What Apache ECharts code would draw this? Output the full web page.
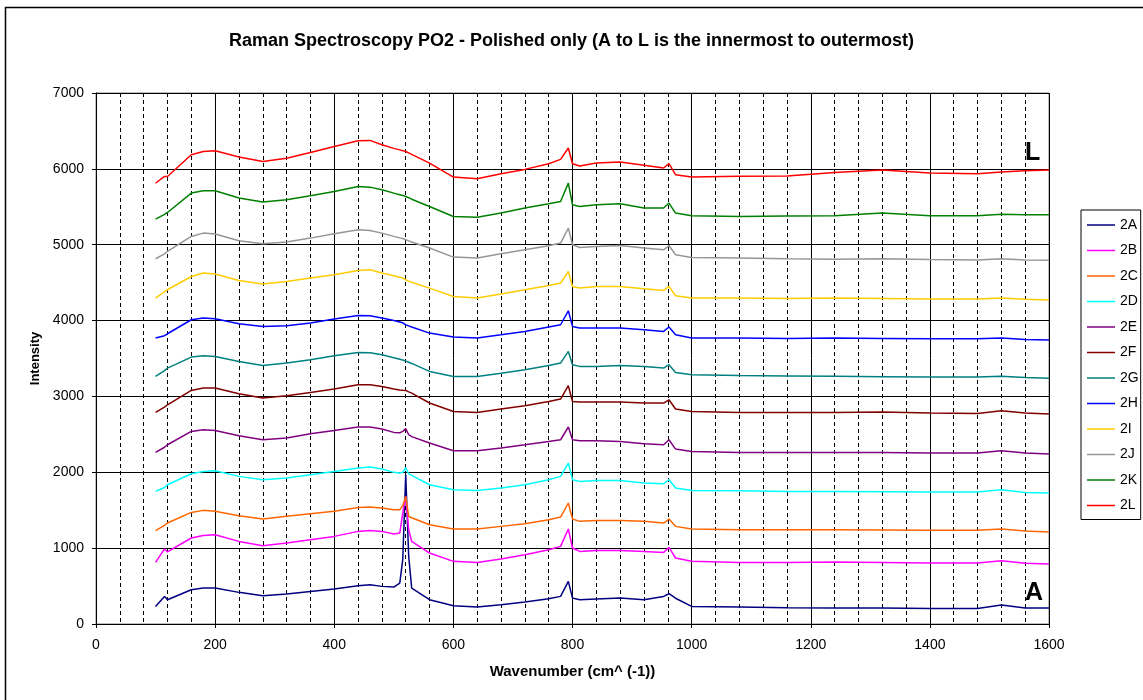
<!DOCTYPE html>
<html>
<head>
<meta charset="utf-8">
<script src="https://cdn.jsdelivr.net/npm/echarts@6/dist/echarts.min.js"></script>
<style>
html,body{margin:0;padding:0;background:#fff;}
#chart{width:1143px;height:700px;}
</style>
</head>
<body>
<div id="chart"></div>
<script>
// ---- data ----
const wavenumbers = [100,115,120,160,180,200,240,280,320,360,400,440,460,480,500,510,515,520,525,530,560,600,640,680,720,760,780,793,800,812,840,880,920,953,962,973,1000,1080,1160,1240,1320,1400,1480,1520,1560,1600];

const seriesNames = ['2A','2B','2C','2D','2E','2F','2G','2H','2I','2J','2K','2L'];
const seriesColors = ['#000080','#FF00FF','#FF6600','#00FFFF','#800080','#800000','#008080','#0000FF','#FFCC00','#969696','#008000','#FF0000'];

const s2A = [232,364,320,452,474,474,417,373,395,430,461,505,518,496,487,540,848,1968,891,474,320,241,224,254,290,333,364,562,342,320,329,342,320,364,399,340,232,224,215,211,211,205,205,250,211,211];
const s2B = [812,990,950,1134,1168,1177,1089,1032,1068,1111,1155,1221,1234,1221,1186,1199,1463,1682,1243,1089,935,826,812,857,914,979,1023,1252,1002,957,970,970,957,944,1010,870,826,812,812,817,810,805,805,835,800,791];
const s2C = [1230,1300,1331,1471,1498,1485,1428,1384,1419,1454,1485,1537,1542,1529,1507,1507,1560,1682,1419,1400,1309,1252,1252,1287,1322,1375,1410,1595,1384,1353,1366,1366,1353,1331,1384,1287,1252,1243,1243,1243,1240,1235,1235,1252,1225,1213];
const s2D = [1748,1800,1836,1981,2011,2021,1946,1902,1924,1968,2011,2056,2069,2043,1999,1990,2000,2060,1980,1960,1836,1770,1761,1792,1836,1902,1946,2122,1902,1880,1893,1893,1858,1849,1902,1792,1761,1755,1748,1748,1745,1740,1740,1770,1735,1726];
const s2E = [2262,2330,2363,2539,2561,2552,2482,2429,2451,2508,2552,2597,2597,2570,2526,2520,2540,2575,2495,2470,2386,2285,2284,2320,2363,2407,2429,2597,2429,2416,2416,2407,2376,2363,2429,2306,2275,2262,2262,2262,2262,2255,2255,2284,2255,2240];
const s2F = [2789,2860,2890,3079,3110,3110,3035,2979,3009,3053,3097,3154,3154,3132,3097,3085,3080,3079,3060,3044,2913,2802,2789,2834,2877,2934,2965,3141,2934,2925,2925,2925,2912,2912,2956,2834,2802,2789,2789,2789,2795,2780,2775,2811,2780,2769];
const s2G = [3263,3340,3374,3519,3537,3527,3461,3409,3440,3484,3537,3580,3575,3550,3510,3490,3480,3465,3450,3435,3330,3263,3263,3306,3352,3409,3440,3593,3418,3396,3396,3409,3396,3374,3418,3316,3286,3277,3270,3265,3260,3255,3255,3265,3250,3240];
const s2H = [3770,3800,3826,4011,4033,4024,3958,3923,3932,3967,4020,4068,4064,4033,4000,3980,3970,3945,3930,3915,3835,3783,3770,3813,3857,3915,3945,4129,3923,3901,3901,3901,3879,3857,3915,3813,3770,3770,3765,3770,3765,3760,3760,3770,3750,3745];
const s2I = [4297,4380,4406,4581,4626,4613,4529,4481,4516,4560,4604,4661,4670,4626,4590,4570,4560,4538,4520,4505,4428,4318,4297,4349,4406,4463,4494,4647,4450,4428,4450,4450,4419,4397,4450,4327,4297,4297,4290,4297,4290,4285,4285,4297,4280,4270];
const s2J = [4815,4880,4911,5109,5153,5140,5052,5012,5035,5087,5144,5197,5188,5153,5110,5090,5080,5065,5050,5035,4956,4837,4824,4881,4933,4986,5022,5219,4999,4964,4977,4990,4956,4933,4990,4868,4832,4824,4815,4810,4815,4805,4800,4815,4800,4795];
const s2K = [5338,5400,5425,5681,5711,5711,5615,5562,5592,5645,5702,5768,5759,5724,5680,5660,5650,5636,5620,5600,5504,5372,5363,5417,5483,5540,5570,5812,5526,5504,5526,5540,5483,5483,5549,5417,5381,5372,5380,5381,5417,5381,5381,5403,5395,5395];
const s2L = [5810,5900,5900,6186,6229,6238,6155,6097,6141,6216,6295,6370,6375,6317,6270,6250,6240,6229,6210,6190,6076,5892,5870,5936,5993,6068,6125,6275,6068,6037,6077,6090,6046,6011,6068,5923,5892,5901,5905,5953,5985,5944,5935,5960,5975,5985];

const seriesValues = [s2A,s2B,s2C,s2D,s2E,s2F,s2G,s2H,s2I,s2J,s2K,s2L];

const xTicks = {min:0, max:1600, interval:200};
const yTicks = {min:0, max:7000, interval:1000};

const titleText = 'Raman Spectroscopy PO2 - Polished only (A to L is the innermost to outermost)';
const xTitle = 'Wavenumber (cm^ (-1))';
const yTitle = 'Intensity';

// ---- chart ----
const FONT = '"Liberation Sans", Arial, sans-serif';
const chart = echarts.init(document.getElementById('chart'), null, {renderer:'canvas'});

const series = seriesNames.map((name, i) => ({
  name: name,
  type: 'line',
  data: wavenumbers.map((x, j) => [x, seriesValues[i][j]]),
  symbol: 'none',
  showSymbol: false,
  lineStyle: {color: seriesColors[i], width: 1.5},
  itemStyle: {color: seriesColors[i]},
  emphasis: {disabled: true},
  z: 3 + i
}));

const plain = v => String(v);

chart.setOption({
  animation: false,
  backgroundColor: '#fff',
  textStyle: {fontFamily: FONT, color: '#000'},
  title: {
    text: titleText,
    left: 'center',
    top: 27,
    textStyle: {fontFamily: FONT, fontSize: 18, fontWeight: 'bold', color: '#000'}
  },
  grid: {left: 96, top: 93, right: 94, bottom: 76, show: true, borderColor: '#808080', borderWidth: 1, backgroundColor: '#fff'},
  legend: {
    orient: 'vertical',
    left: 1081,
    top: 210,
    data: seriesNames.map(n => ({name: n, icon: 'rect'})),
    itemWidth: 28,
    itemHeight: 1.5,
    itemGap: 11.5,
    itemTextGap: 4,
    padding: [8, 2, 7, 6],
    borderColor: '#000',
    borderWidth: 1,
    backgroundColor: '#fff',
    selectedMode: false,
    textStyle: {fontFamily: FONT, fontSize: 14, color: '#000'}
  },
  xAxis: {
    type: 'value',
    min: xTicks.min, max: xTicks.max, interval: xTicks.interval,
    name: xTitle,
    nameLocation: 'middle',
    nameGap: 40,
    nameTextStyle: {fontFamily: FONT, fontSize: 15, fontWeight: 'bold', color: '#000'},
    axisLine: {show: true, onZero: false, lineStyle: {color: '#000', width: 1}},
    axisTick: {show: true, inside: false, length: 4, lineStyle: {color: '#000'}},
    axisLabel: {fontFamily: FONT, fontSize: 14, color: '#000', margin: 14, formatter: plain},
    splitLine: {show: true, lineStyle: {color: '#000', width: 1}},
    minorTick: {show: false, splitNumber: 5},
    minorSplitLine: {show: true, lineStyle: {color: '#000', width: 1, type: [4, 3]}}
  },
  yAxis: {
    type: 'value',
    min: yTicks.min, max: yTicks.max, interval: yTicks.interval,
    name: yTitle,
    nameLocation: 'middle',
    nameGap: 54,
    nameRotate: 90,
    nameTextStyle: {fontFamily: FONT, fontSize: 13, fontWeight: 'bold', color: '#000'},
    axisLine: {show: true, lineStyle: {color: '#000', width: 1}},
    axisTick: {show: true, inside: false, length: 4, lineStyle: {color: '#000'}},
    axisLabel: {fontFamily: FONT, fontSize: 14, color: '#000', margin: 12, formatter: plain},
    splitLine: {show: true, lineStyle: {color: '#000', width: 1}}
  },
  graphic: [
    {type: 'rect', left: 3, top: 5, shape: {x: 0, y: 0, width: 1160, height: 720}, style: {fill: null, stroke: '#000', lineWidth: 1.5}, silent: true, z: 0},
    {type: 'text', left: 1025, top: 141, style: {text: 'L', fontFamily: FONT, fontSize: 25, fontWeight: 'bold', fill: '#000'}, z: 20},
    {type: 'text', left: 1025, top: 581, style: {text: 'A', fontFamily: FONT, fontSize: 25, fontWeight: 'bold', fill: '#000'}, z: 20}
  ],
  series: series
});
</script>
</body>
</html>
